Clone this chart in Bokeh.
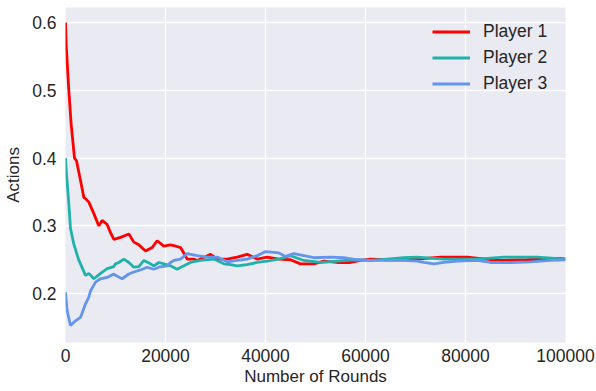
from bokeh.plotting import figure
from bokeh.models import Range1d, FixedTicker
from bokeh.embed import file_html
from bokeh.resources import INLINE

# ---- data ----
p1_x = [0, 130, 660, 1130, 1800, 2200, 3000, 3670, 4000, 4670, 5670, 6670, 7330, 8330, 9000, 9670,
        11000, 12670, 13670, 14670, 16000, 17330, 18330, 19670, 21000, 21670, 23000, 23670, 24330,
        25670, 26330, 29000, 30330, 32330, 34330, 36330, 38330, 40330, 42670, 45000, 47000, 49670,
        51670, 54330, 57000, 59000, 61000, 64330, 67670, 70330, 75000, 80330, 86330, 92330, 99000, 100000]
p1_y = [0.600, 0.568, 0.500, 0.450, 0.400, 0.396, 0.367, 0.342, 0.340, 0.335, 0.318, 0.300, 0.308, 0.302,
        0.290, 0.280, 0.283, 0.288, 0.276, 0.272, 0.263, 0.268, 0.278, 0.270, 0.272, 0.271, 0.268, 0.260,
        0.251, 0.251, 0.249, 0.258, 0.251, 0.251, 0.254, 0.258, 0.251, 0.254, 0.251, 0.250, 0.244, 0.244,
        0.248, 0.246, 0.246, 0.249, 0.251, 0.250, 0.250, 0.251, 0.254, 0.254, 0.249, 0.250, 0.252, 0.251]

p2_x = [0, 150, 670, 1000, 1670, 2670, 3000, 4000, 4670, 5670, 7000, 8330, 9670, 10000, 10670, 11670,
        12670, 13670, 14670, 15670, 17000, 17670, 18670, 19670, 21000, 22330, 23670, 25000, 27000, 29670,
        31670, 33000, 34330, 36330, 38330, 40330, 42670, 45000, 47670, 51000, 54330, 57670, 61000, 64330,
        67670, 70330, 75670, 82330, 87670, 94330, 100000]
p2_y = [0.400, 0.381, 0.332, 0.296, 0.273, 0.249, 0.244, 0.227, 0.230, 0.222, 0.230, 0.237, 0.240, 0.244,
        0.246, 0.251, 0.246, 0.239, 0.240, 0.249, 0.244, 0.241, 0.246, 0.244, 0.241, 0.236, 0.241, 0.246,
        0.249, 0.251, 0.244, 0.243, 0.241, 0.243, 0.246, 0.248, 0.251, 0.256, 0.249, 0.246, 0.248, 0.250,
        0.249, 0.251, 0.253, 0.254, 0.251, 0.251, 0.254, 0.254, 0.251]

p3_x = [0, 330, 1000, 2000, 3000, 4000, 4670, 5000, 6000, 7000, 8330, 9670, 10000, 11330, 12670, 13670,
        15000, 16330, 17670, 18670, 20330, 21000, 21670, 23000, 24330, 26330, 28330, 30330, 32330, 34330,
        36330, 38330, 40000, 41670, 42670, 44000, 45670, 47670, 49670, 53000, 55670, 58330, 61000, 64330,
        67670, 70330, 71670, 73670, 75670, 78330, 82330, 85000, 89000, 93000, 97000, 100000]
p3_y = [0.202, 0.175, 0.153, 0.160, 0.165, 0.185, 0.195, 0.204, 0.217, 0.222, 0.224, 0.229, 0.227, 0.222,
        0.229, 0.232, 0.235, 0.239, 0.236, 0.239, 0.241, 0.246, 0.249, 0.251, 0.259, 0.256, 0.254, 0.254,
        0.247, 0.249, 0.251, 0.256, 0.262, 0.261, 0.260, 0.255, 0.259, 0.256, 0.253, 0.254, 0.253, 0.250,
        0.249, 0.249, 0.249, 0.248, 0.246, 0.244, 0.246, 0.248, 0.249, 0.246, 0.246, 0.247, 0.249, 0.250]

x_ticks = [0, 20000, 40000, 60000, 80000, 100000]
y_ticks = [0.2, 0.3, 0.4, 0.5, 0.6]
series_labels = ["Player 1", "Player 2", "Player 3"]
series_colors = ["#FF0000", "#20B2AA", "#6495ED"]

FONT = "Liberation Sans"
TXT = "#262626"

p = figure(width=596, height=391, output_backend="svg", toolbar_location=None,
           x_range=Range1d(0, 100000), y_range=Range1d(0.128, 0.622),
           min_border_left=65, min_border_right=31, min_border_top=7, min_border_bottom=49)

p.background_fill_color = "#EAEAF2"
p.border_fill_color = "white"
p.outline_line_color = None

for xs, ys, lab, col in zip([p1_x, p2_x, p3_x], [p1_y, p2_y, p3_y], series_labels, series_colors):
    p.line(xs, ys, line_color=col, line_width=2.8, legend_label=lab)

p.xaxis.ticker = FixedTicker(ticks=x_ticks)
p.yaxis.ticker = FixedTicker(ticks=y_ticks)
p.xaxis.major_label_overrides = {t: str(t) for t in x_ticks}
p.yaxis.major_label_overrides = {t: f"{t:.1f}" for t in y_ticks}

p.xaxis.axis_label = "Number of Rounds"
p.yaxis.axis_label = "Actions"

for ax in (p.xaxis, p.yaxis):
    ax.axis_line_color = None
    ax.major_tick_line_color = None
    ax.minor_tick_line_color = None
    ax.major_tick_out = 0
    ax.major_tick_in = 0
    ax.major_label_text_font = FONT
    ax.major_label_text_font_size = "17.5px"
    ax.major_label_text_color = TXT
    ax.axis_label_text_font = FONT
    ax.axis_label_text_font_size = "17px"
    ax.axis_label_text_font_style = "normal"
    ax.axis_label_text_color = TXT
p.xaxis.major_label_standoff = 6
p.xaxis.axis_label_standoff = 2
p.yaxis.major_label_standoff = 9
p.yaxis.axis_label_standoff = 6

p.grid.grid_line_color = "white"
p.grid.grid_line_width = 1.3
p.xgrid.ticker = FixedTicker(ticks=x_ticks)
p.ygrid.ticker = FixedTicker(ticks=y_ticks)

leg = p.legend[0]
leg.location = (355, 236)
leg.margin = 0
leg.padding = 12
leg.spacing = 5
leg.label_height = 21
leg.glyph_height = 21
leg.glyph_width = 38
leg.label_standoff = 13
leg.label_text_font = FONT
leg.label_text_font_size = "17.5px"
leg.label_text_color = TXT
leg.background_fill_alpha = 0
leg.border_line_alpha = 0

open("out.html", "w").write(file_html(p, INLINE))
